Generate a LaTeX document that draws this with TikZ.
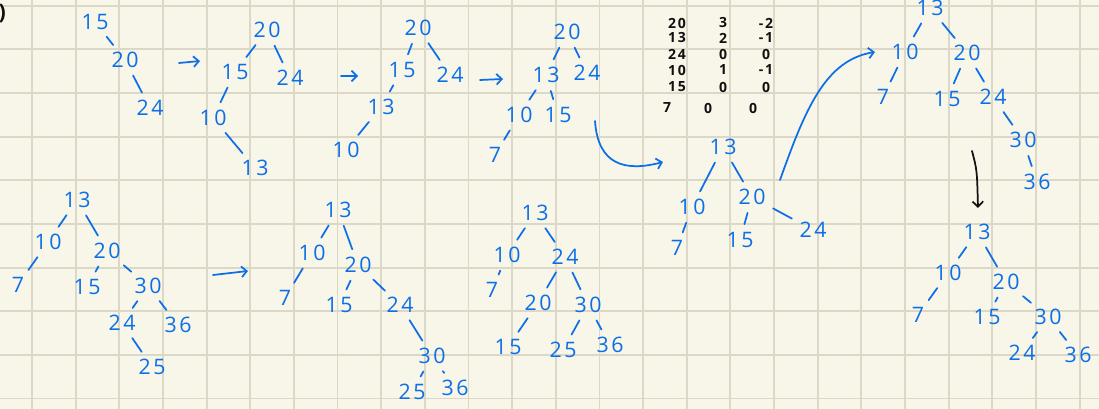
\documentclass[tikz,border=0pt]{standalone}
\usepackage{fontspec}
\setmainfont{Open Sans}[LetterSpace=12]
\usetikzlibrary{arrows.meta}
\definecolor{paper}{HTML}{F8F5E9}
\definecolor{gridln}{HTML}{DBD8C8}
\definecolor{ink}{HTML}{0B6FE8}
\definecolor{pencil}{HTML}{111111}
\tikzset{
  num/.style={text=ink,font=\fontsize{16}{17}\selectfont,inner sep=2pt},
  tab/.style={text=pencil,font=\fontsize{10.5}{11}\selectfont\bfseries,inner sep=1pt},
  edge/.style={draw=ink,line width=1.3pt,line cap=round,shorten >=4pt,shorten <=4pt},
  harr/.style={-{Straight Barb[length=4pt,width=8pt]},draw=ink,line width=1.3pt,line cap=round},
  karr/.style={-{Straight Barb[length=4pt,width=8pt]},draw=pencil,line width=1.3pt,line cap=round},
}

\begin{document}
\begin{tikzpicture}[x=0.75pt,y=-0.75pt]
  \fill[paper] (0,0) rectangle (1099,409);
  \useasboundingbox (0,0) rectangle (1099,409);
  \foreach \k in {0,...,24} {
    \draw[gridln,line width=1.4pt] (32+43.65*\k,0) -- (32+43.65*\k,409);
  }
  \foreach \k in {0,...,9} {
    \draw[gridln,line width=1.4pt] (0,5.7+43.65*\k) -- (1099,5.7+43.65*\k);
  }
  \node[text=pencil,font=\fontsize{16}{17}\selectfont\bfseries,anchor=east,inner sep=0pt] (cut) at (6,14) {)};

  % first row
  \foreach \n/\x/\y in {15/95/22,20/125/60,24/150/108}
    \node[num] (a\n) at (\x,\y) {\n};
  \foreach \p/\q in {15/20,20/24}
    \draw[edge] (a\p) -- (a\q);

  \foreach \n/\x/\y in {20/267/30,15/235/72,24/290/78,10/213/118,13/255/168}
    \node[num] (b\n) at (\x,\y) {\n};
  \foreach \p/\q in {20/15,20/24,15/10,10/13}
    \draw[edge] (b\p) -- (b\q);

  \foreach \n/\x/\y in {20/418/28,15/402/70,24/450/75,13/381/107,10/346/150}
    \node[num] (c\n) at (\x,\y) {\n};
  \foreach \p/\q in {20/15,20/24,15/13,13/10}
    \draw[edge] (c\p) -- (c\q);

  \foreach \n/\x/\y in {20/567/32,13/546/75,24/587/73,10/519/115,15/558/115,7/495/155}
    \node[num] (d\n) at (\x,\y) {\n};
  \foreach \p/\q in {20/13,20/24,13/10,13/15,10/7}
    \draw[edge] (d\p) -- (d\q);

  \foreach \n/\x/\y in {13/723/147,10/692/207,20/752/197,7/677/248,15/740/240,24/813/230}
    \node[num] (e\n) at (\x,\y) {\n};
  \foreach \p/\q in {13/10,13/20,10/7,20/15,20/24}
    \draw[edge] (e\p) -- (e\q);

  \foreach \n/\x/\y in {13/930/8,10/905/52,20/967/53,7/883/97,15/947/99,24/993/97,30/1023/140,36/1037/182}
    \node[num] (f\n) at (\x,\y) {\n};
  \foreach \p/\q in {13/10,13/20,10/7,20/15,20/24,24/30,30/36}
    \draw[edge] (f\p) -- (f\q);

  \foreach \n/\x/\y in {13/977/232,10/948/273,20/1006/282,7/918/315,15/987/317,30/1048/317,24/1022/353,36/1078/355}
    \node[num] (g\n) at (\x,\y) {\n};
  \foreach \p/\q in {13/10,13/20,10/7,20/15,20/30,30/24,30/36}
    \draw[edge] (g\p) -- (g\q);

  % second row
  \foreach \n/\x/\y in {13/77/200,10/48/242,20/107/251,7/18/285,15/87/287,30/148/286,24/122/323,36/178/325,25/152/367}
    \node[num] (h\n) at (\x,\y) {\n};
  \foreach \p/\q in {13/10,13/20,10/7,20/15,20/30,30/24,30/36,24/25}
    \draw[edge] (h\p) -- (h\q);

  \foreach \n/\x/\y in {13/338/210,10/312/253,20/358/265,7/285/298,15/339/305,24/400/305,30/432/356,25/412/392,36/455/388}
    \node[num] (i\n) at (\x,\y) {\n};
  \foreach \p/\q in {13/10,13/20,10/7,20/15,20/24,24/30,30/25,30/36}
    \draw[edge] (i\p) -- (i\q);

  \foreach \n/\x/\y in {13/535/213,10/507/255,24/565/257,7/492/290,20/538/303,30/588/305,15/508/347,25/563/350,36/610/345}
    \node[num] (j\n) at (\x,\y) {\n};
  \foreach \p/\q in {13/10,13/24,10/7,24/20,24/30,20/15,30/25,30/36}
    \draw[edge] (j\p) -- (j\q);

  % height / balance table
  \foreach \k/\h/\b/\y/\d [count=\r] in {20/3/-2/23/0,13/2/-1/38/0,24/0/0/54/0,10/1/-1/70/0,15/0/0/87/0,7/0/0/108/-10} {
    \node[tab] (tk\r) at (677+\d,\y) {\k};
    \node[tab] (th\r) at (723+1.5*\d,\y) {\h};
    \node[tab] (tb\r) at (766+1.3*\d,\y) {\b};
  }

  % arrows
  \coordinate (s1) at (179,63);  \coordinate (t1) at (200,61);
  \coordinate (s2) at (341,76);  \coordinate (t2) at (358,76);
  \coordinate (s3) at (480,80);  \coordinate (t3) at (503,79);
  \coordinate (s4) at (213,275); \coordinate (t4) at (248,271);
  \coordinate (s5) at (595,121); \coordinate (t5) at (663,162);
  \coordinate (s6) at (780,180); \coordinate (t6) at (875,52);
  \coordinate (s7) at (972,151); \coordinate (t7) at (978,208);
  \foreach \i in {1,...,4}
    \draw[harr] (s\i) -- (t\i);
  \draw[harr] (s5) .. controls (598,165) and (625,172) .. (t5);
  \draw[harr] (s6) .. controls (805,110) and (825,60) .. (t6);
  \draw[karr] (s7) .. controls (977,170) .. (t7);
\end{tikzpicture}
\end{document}
